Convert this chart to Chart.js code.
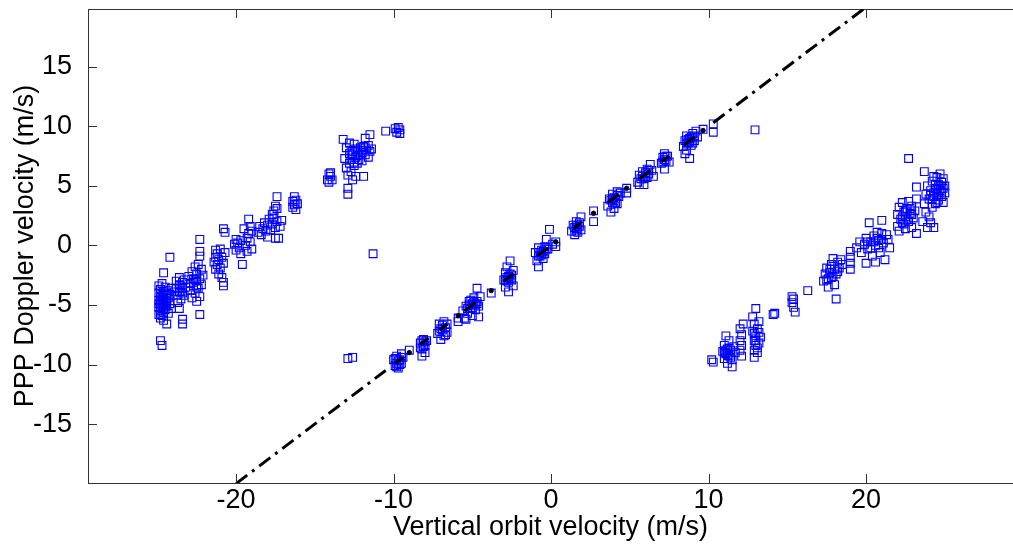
<!DOCTYPE html>
<html>
<head>
<meta charset="utf-8">
<script src="https://cdn.jsdelivr.net/npm/chart.js@4.4.1/dist/chart.umd.min.js"></script>
<style>
  html, body { margin: 0; padding: 0; background: #fff; overflow: hidden; }
  canvas { display: block; }
</style>
</head>
<body>
<canvas id="c" width="1013" height="548" style="width:1013px;height:548px"></canvas>
<script>
// tick labels
const xTicks = [-20, -10, 0, 10, 20];
const yTicks = [-15, -10, -5, 0, 5, 10, 15];

// blue squares: satellites wrapping on the left (x < -10)
const wrapLeft = [
  [-24.9,-3.4],[-24.9,-4.0],[-24.9,-4.6],[-24.9,-5.2],[-24.9,-5.8],[-24.8,-3.7],[-24.8,-4.3],[-24.8,-4.9],
  [-24.8,-5.5],[-24.8,-6.1],[-24.7,-3.2],[-24.7,-4.1],[-24.7,-4.7],[-24.7,-5.3],[-24.7,-5.9],[-24.6,-3.9],
  [-24.6,-4.5],[-24.6,-5.0],[-24.6,-5.6],[-24.6,-6.3],[-24.5,-3.5],[-24.5,-4.2],[-24.5,-4.8],[-24.5,-5.4],
  [-24.4,-4.0],[-24.4,-4.6],[-24.4,-5.1],[-24.3,-3.8],[-24.3,-4.4],[-24.3,-5.7],[-24.2,-4.1],[-24.2,-4.9],
  [-24.1,-3.6],[-24.1,-5.3],[-24.8,-8.0],[-24.7,-8.4],[-24.2,-1.0],[-24.6,-2.3],[-24.4,-6.6],
  [-24.8,-4.6],[-24.7,-5.0],[-24.6,-4.2],[-24.5,-5.1],[-24.9,-4.9],[-24.7,-4.4],[-24.6,-5.3],[-24.8,-5.8],
  [-23.9,-3.9],[-23.8,-3.0],[-23.8,-3.6],[-23.7,-4.2],[-23.7,-4.8],[-23.6,-2.7],[-23.6,-3.3],[-23.5,-3.9],
  [-23.5,-4.5],[-23.4,-3.1],[-23.4,-3.6],[-23.3,-4.2],[-23.3,-2.9],[-23.2,-3.5],[-23.4,-6.2],[-23.4,-6.6],
  [-23.6,-5.3],[-23.5,-3.4],[-23.6,-3.9],[-23.4,-4.0],
  [-23.0,-2.6],[-22.9,-3.2],[-22.9,-3.8],[-22.8,-2.2],[-22.8,-4.4],[-22.7,-2.8],[-22.7,-3.4],[-22.6,-1.8],
  [-22.6,-4.0],[-22.5,-2.4],[-22.5,-3.0],[-22.4,-3.6],[-22.4,-1.6],[-22.3,-2.8],[-22.3,-0.5],[-22.3,0.5],
  [-22.3,-0.9],[-22.3,-5.8],[-22.2,-3.3],[-22.2,-2.0],[-22.1,-2.5],[-22.5,-4.7],[-22.3,-4.3],
  [-22.6,-2.9],[-22.5,-3.5],[-22.7,-3.1],
  [-21.4,-1.4],[-21.3,-0.4],[-21.3,-1.0],[-21.3,-2.0],[-21.2,-0.7],[-21.2,-1.6],[-21.1,-2.4],[-21.1,-1.2],
  [-21.0,-0.3],[-21.0,-1.9],[-20.9,-1.0],[-20.9,-2.7],[-20.8,-3.1],[-20.8,-1.5],[-20.7,-0.6],[-20.8,1.4],
  [-20.7,1.1],[-20.8,-3.4],
  [-20.1,0.1],[-20.0,0.5],[-20.0,-0.4],[-19.9,0.2],[-19.8,-0.2],[-19.7,0.4],[-19.7,-0.7],[-19.6,-1.6],
  [-19.5,1.4],[-19.4,0.0],[-19.3,0.6],[-19.3,-0.5],[-19.2,2.2],[-19.2,1.0],[-19.1,0.3],[-19.0,-0.3],
  [-19.1,1.6],[-19.0,1.2],
  [-18.6,1.1],[-18.5,1.6],[-18.4,0.9],[-18.3,1.4],[-18.2,1.9],[-18.1,1.2],[-18.0,0.7],[-18.0,1.7],
  [-17.9,2.2],[-17.8,1.3],[-17.7,1.8],[-17.6,2.3],[-17.5,0.6],[-17.5,1.5],[-17.4,2.0],[-17.3,0.6],
  [-17.2,1.6],[-17.1,2.1],[-17.6,2.9],[-17.5,3.3],[-17.4,3.1],[-17.4,4.1],[-17.7,2.6],
  [-16.4,3.2],[-16.4,3.7],[-16.3,4.1],[-16.3,3.4],[-16.2,3.0],[-16.2,3.8],[-16.1,3.5],
  [-14.2,5.5],[-14.1,6.0],[-14.1,5.3],[-14.0,5.8],[-13.9,5.5],[-14.0,6.1],
  [-13.1,7.3],[-13.0,8.2],[-13.0,6.5],[-12.9,5.9],[-12.9,4.8],[-12.9,4.3],[-12.8,7.7],[-12.8,6.9],
  [-12.8,8.6],[-12.7,7.2],[-12.7,6.2],[-12.6,5.5],[-12.6,7.9],[-12.5,8.5],[-12.5,6.7],[-12.4,7.4],
  [-12.3,8.0],[-12.3,6.9],[-12.2,7.6],[-12.1,8.2],[-12.0,7.1],[-12.0,7.8],[-11.9,8.3],[-11.8,7.6],
  [-11.8,9.0],[-11.7,8.0],[-11.6,7.4],[-11.6,8.4],[-11.5,7.9],[-11.5,9.3],[-11.4,8.1],[-12.4,5.8],
  [-11.9,5.8],[-13.2,8.9],
  [-12.6,7.6],[-12.4,8.1],[-12.2,7.2],[-12.0,8.0],[-11.8,8.2],[-12.7,8.0],[-12.5,7.0],
  [-11.3,-0.7],[-12.9,-9.5],[-12.6,-9.4],
  [-10.5,9.6],[-9.9,9.8],[-9.8,9.5],[-9.7,9.9],[-9.6,9.7],[-9.6,9.4]
];

// blue squares along the diagonal
const diagonal = [
  [-10.0,-9.6],[-9.9,-10.1],[-9.8,-9.3],[-9.8,-9.9],[-9.7,-10.3],[-9.6,-9.6],[-9.5,-9.1],[-9.5,-9.9],
  [-9.4,-9.4],[-9.0,-8.8],[-9.9,-9.5],[-9.7,-9.7],[-9.6,-10.0],[-9.8,-10.2],[-9.5,-9.4],
  [-8.3,-8.2],[-8.2,-8.7],[-8.2,-9.3],[-8.1,-7.9],[-8.0,-8.4],[-8.0,-9.0],[-7.9,-8.0],
  [-8.2,-8.0],[-8.1,-8.5],[-8.0,-8.1],[-8.3,-8.6],
  [-7.2,-7.4],[-7.1,-6.6],[-7.0,-7.9],[-6.9,-7.1],[-6.8,-6.4],[-6.8,-7.6],[-6.7,-6.9],[-6.6,-7.3],[-6.6,-6.6],
  [-7.0,-7.0],[-6.9,-6.7],[-7.1,-7.2],[-6.7,-7.5],
  [-5.9,-6.1],[-5.9,-6.4],
  [-5.6,-5.5],[-5.5,-6.1],[-5.4,-5.1],[-5.3,-5.7],[-5.2,-4.7],[-5.1,-5.3],[-5.0,-5.9],[-5.0,-4.9],
  [-4.9,-4.4],[-4.8,-5.4],[-4.7,-4.7],[-4.7,-3.6],[-4.6,-5.1],[-4.5,-4.3],[-4.6,-6.0],[-5.4,-6.2],
  [-5.3,-5.3],[-5.2,-5.0],[-5.0,-5.2],[-4.9,-4.8],[-4.8,-5.0],[-5.1,-4.6],[-4.7,-4.9],
  [-3.8,-4.0],
  [-3.0,-2.9],[-2.9,-2.3],[-2.9,-3.5],[-2.8,-1.8],[-2.8,-2.7],[-2.7,-3.1],[-2.7,-3.9],[-2.6,-2.4],
  [-2.6,-1.3],[-2.5,-2.9],[-2.4,-2.1],[-2.4,-3.4],
  [-2.8,-3.0],[-2.7,-2.6],[-2.6,-2.8],[-2.9,-2.9],[-2.5,-2.5],
  [-1.0,-0.6],[-0.9,-1.3],[-0.8,-0.2],[-0.8,-1.8],[-0.7,-0.9],[-0.6,-0.4],[-0.5,-1.1],[-0.4,-0.1],
  [-0.4,-0.7],[-0.3,0.5],[-0.2,-0.3],[-0.1,1.35],[0.1,0.1],[0.3,0.3],[0.3,-0.1],
  [-0.7,-0.6],[-0.6,-0.8],[-0.5,-0.5],[-0.8,-0.9],[-0.3,-0.3],
  [1.3,1.2],[1.4,1.7],[1.5,0.9],[1.6,1.4],[1.6,2.0],[1.7,1.1],[1.8,1.6],[1.9,2.4],[1.9,1.3],
  [1.5,1.5],[1.7,1.7],[1.6,1.2],[1.8,1.9],
  [2.7,2.9],[2.7,2.0],
  [3.6,3.3],[3.7,3.9],[3.8,2.8],[3.9,3.6],[3.9,4.3],[4.0,3.1],[4.1,3.9],[4.2,4.5],[4.2,3.5],
  [4.3,4.1],[4.4,4.4],[4.8,4.8],[4.8,4.4],
  [3.8,3.8],[4.0,4.0],[4.1,3.6],[3.9,3.9],[4.2,4.2],
  [5.5,5.3],[5.6,5.9],[5.7,5.6],[5.8,6.2],[5.9,5.1],[6.0,5.8],[6.1,6.4],[6.2,6.0],[6.3,6.8],
  [6.4,6.3],[6.5,5.8],[5.6,5.1],
  [5.8,5.8],[6.0,6.1],[6.1,5.7],[5.9,5.6],[6.2,6.3],
  [7.0,6.9],[7.1,7.4],[7.2,7.7],[7.2,6.4],[7.3,7.1],[7.4,7.5],[7.5,7.0],
  [7.2,7.2],[7.3,7.5],[7.1,7.0],
  [8.4,8.3],[8.5,8.8],[8.5,7.7],[8.6,9.2],[8.7,8.6],[8.8,7.3],[8.8,9.0],[8.9,8.4],[9.0,9.4],
  [9.1,8.8],[9.2,9.6],[9.3,9.1],[8.6,8.0],
  [8.7,8.9],[8.8,8.7],[8.9,9.1],[9.0,8.6],[8.6,8.5],[9.1,9.2],
  [9.65,9.75],[10.3,10.2],[10.3,9.5],
  [12.95,9.7]
];

// blue squares: satellites wrapping on the right (x > 10)
const wrapRight = [
  [10.2,-9.6],[10.3,-9.8],
  [10.9,-8.9],[11.0,-9.5],[11.0,-8.4],[11.1,-9.1],[11.1,-7.6],[11.2,-8.7],[11.2,-9.9],[11.3,-9.3],
  [11.3,-8.0],[11.4,-8.8],[11.5,-9.6],[11.5,-10.2],[11.6,-8.5],[11.7,-9.0],
  [11.1,-8.8],[11.2,-9.2],[11.3,-8.6],[11.0,-9.0],[11.4,-9.4],
  [12.0,-7.0],[12.0,-8.0],[12.0,-8.8],[12.1,-7.5],[12.1,-9.3],[12.1,-8.4],[12.2,-6.6],
  [12.8,-6.0],[12.8,-7.2],[12.9,-8.0],[12.9,-8.8],[12.9,-9.4],[12.9,-6.6],[13.0,-7.6],[13.0,-8.4],
  [13.0,-5.3],[13.1,-7.0],[13.1,-9.0],[13.2,-7.3],[13.2,-6.4],[13.3,-7.7],
  [13.0,-8.0],[13.1,-8.6],[12.9,-7.4],[13.2,-8.2],
  [14.1,-5.8],[14.2,-5.7],
  [15.3,-4.3],[15.3,-4.8],[15.4,-5.2],[15.4,-4.5],[15.5,-5.6],
  [16.3,-3.8],
  [17.3,-3.0],[17.4,-2.4],[17.5,-1.9],[17.5,-2.9],[17.6,-3.5],[17.7,-2.3],[17.8,-1.6],[17.8,-2.7],
  [17.9,-1.1],[18.0,-2.0],[18.1,-4.5],[18.1,-2.4],[18.2,-1.4],[18.3,-1.9],[18.4,-1.2],[18.5,-1.6],
  [18.0,-3.3],[17.7,-2.0],[17.9,-2.6],[18.2,-2.2],[17.6,-2.8],
  [19.0,-0.5],[19.0,-1.0],[19.0,-1.5],[19.0,-2.0],
  [19.4,-0.2],[19.6,0.3],[19.7,-0.6],[19.9,0.1],[20.0,0.6],[20.1,-0.3],[20.2,1.9],[20.3,0.3],
  [20.4,-0.9],[20.5,0.8],[20.6,0.0],[20.7,1.1],[20.8,0.4],[20.9,-0.6],[21.0,2.1],[21.0,1.0],
  [21.1,0.2],[21.2,-1.2],[21.3,0.9],[21.4,0.5],[21.5,-0.2],[20.0,-1.5],[20.6,-1.4],
  [20.3,-0.2],[20.5,0.3],[20.8,-0.2],[21.0,0.5],[20.1,0.3],[20.7,0.6],
  [22.0,1.6],[22.0,2.6],[22.1,3.2],[22.1,1.2],[22.2,2.2],[22.3,3.6],[22.3,1.9],[22.4,2.8],
  [22.5,1.4],[22.5,2.4],[22.6,3.1],[22.7,2.0],[22.7,3.7],[22.8,2.7],[22.9,1.5],[22.9,3.3],
  [23.0,2.3],[23.1,2.9],[23.2,3.9],[23.2,1.0],[22.7,7.3],[23.2,4.9],
  [22.3,2.4],[22.5,2.9],[22.6,2.2],[22.8,3.1],[22.4,1.8],[22.9,2.6],
  [23.6,2.0],[23.7,3.5],[23.8,4.3],[23.8,2.8],[23.9,1.5],[23.9,5.0],[24.0,3.9],[24.0,2.4],
  [24.1,4.6],[24.2,3.2],[24.2,5.4],[24.3,4.1],[24.3,1.5],[24.4,4.8],[24.4,3.5],[24.5,5.7],
  [24.5,4.3],[24.6,3.8],[24.6,5.1],[24.7,4.6],[24.7,6.0],[24.8,4.1],[24.8,5.3],[24.9,4.8],
  [24.9,3.6],[25.0,5.0],[25.0,4.4],[24.1,1.9],[23.7,6.2],
  [24.3,4.4],[24.5,4.7],[24.6,4.1],[24.4,5.1],[24.7,5.0],[24.8,4.5],[24.2,3.9],[24.5,3.6],
  [24.9,5.6],[24.1,4.2],[24.3,5.8]
];

// black dash-dot reference (null = break)
const refX = [-20, -10.5, null, -9.9, -9.4, null, -8.3, -7.8, null, -7.1, -6.6, null, -5.5, -4.6, null,
  -3.0, -2.4, null, -0.9, -0.1, null, 1.4, 1.9, null, 3.6, 4.3, null, 5.6, 6.4, null, 7.0, 7.5, null,
  8.4, 9.2, null, 10.3, 20];
const refY = [-20, -10.5, null, -9.9, -9.4, null, -8.3, -7.8, null, -7.1, -6.6, null, -5.5, -4.6, null,
  -3.0, -2.4, null, -0.9, -0.1, null, 1.4, 1.9, null, 3.6, 4.3, null, 5.6, 6.4, null, 7.0, 7.5, null,
  8.4, 9.2, null, 10.3, 20];
const dotX = [-9.0, -5.9, -3.8, 0.3, 2.7, 4.8, 9.65];
const dotY = [-9.0, -5.9, -3.8, 0.3, 2.7, 4.8, 9.65];

const FONT = { family: '"Liberation Sans", Arial, sans-serif', size: 27 };
const TICK_FONT = { family: '"Liberation Sans", Arial, sans-serif', size: 27, lineHeight: 1 };
const toPts = arr => arr.map(p => ({ x: p[0], y: p[1] }));

const innerTicks = {
  id: 'innerTicks',
  afterDraw(chart) {
    const { ctx, chartArea: a, scales } = chart;
    const len = 9;
    ctx.save();
    ctx.strokeStyle = '#333';
    ctx.lineWidth = 1;
    ctx.beginPath();
    scales.x.ticks.forEach(t => {
      const px = Math.round(scales.x.getPixelForValue(t.value)) + 0.5;
      ctx.moveTo(px, a.bottom); ctx.lineTo(px, a.bottom - len);
      ctx.moveTo(px, a.top); ctx.lineTo(px, a.top + len);
    });
    scales.y.ticks.forEach(t => {
      const py = Math.round(scales.y.getPixelForValue(t.value)) + 0.5;
      ctx.moveTo(a.left, py); ctx.lineTo(a.left + len, py);
    });
    ctx.stroke();
    ctx.restore();
  }
};

function noPadX(s, h) { s.height = h; s.paddingLeft = 0; s.paddingRight = 0; }

new Chart(document.getElementById('c'), {
  type: 'scatter',
  data: {
    datasets: [
      {
        data: refX.map((v, i) => ({ x: v, y: refY[i] })),
        showLine: true,
        spanGaps: false,
        borderColor: '#000',
        borderWidth: 3,
        borderDash: [14, 6, 3, 6],
        pointRadius: 0,
        order: 0
      },
      {
        data: dotX.map((v, i) => ({ x: v, y: dotY[i] })),
        pointStyle: 'circle',
        pointRadius: 2.2,
        backgroundColor: '#000',
        borderColor: '#000',
        order: 0
      },
      {
        data: toPts(wrapLeft).concat(toPts(diagonal), toPts(wrapRight)),
        pointStyle: 'rect',
        pointRadius: 5.5,
        borderWidth: 1.1,
        borderColor: 'rgb(0,0,255)',
        backgroundColor: 'rgba(0,0,0,0)',
        order: 1
      }
    ]
  },
  options: {
    responsive: false,
    animation: false,
    layout: { padding: 0, autoPadding: false },
    plugins: { legend: { display: false }, tooltip: { enabled: false } },
    scales: {
      x: {
        type: 'linear', position: 'bottom', min: -29.4, max: 29.33,
        afterBuildTicks: s => { s.ticks = xTicks.map(v => ({ value: v })); },
        afterFit: s => noPadX(s, 65),
        grid: { display: false },
        border: { display: true, color: '#333', width: 1 },
        ticks: { font: TICK_FONT, color: '#000', padding: -4, maxRotation: 0 },
        title: { display: true, text: 'Vertical orbit velocity (m/s)', font: FONT, color: '#000', padding: { top: 0, bottom: 4 } }
      },
      x2: {
        type: 'linear', position: 'top', min: -29.4, max: 29.33,
        afterBuildTicks: s => { s.ticks = xTicks.map(v => ({ value: v })); },
        afterFit: s => noPadX(s, 9),
        grid: { display: false },
        border: { display: true, color: '#333', width: 1 },
        ticks: { display: false }
      },
      y: {
        type: 'linear', position: 'left', min: -19.95, max: 19.85,
        afterBuildTicks: s => { s.ticks = yTicks.map(v => ({ value: v })); },
        afterFit: s => { s.width = 88; s.paddingTop = 0; s.paddingBottom = 0; },
        grid: { display: false },
        border: { display: true, color: '#333', width: 1 },
        ticks: { font: TICK_FONT, color: '#000', padding: 8 },
        title: { display: true, text: 'PPP Doppler velocity (m/s)', font: FONT, color: '#000', padding: { top: 9, bottom: 0 } }
      }
    }
  },
  plugins: [innerTicks]
});
</script>
</body>
</html>
